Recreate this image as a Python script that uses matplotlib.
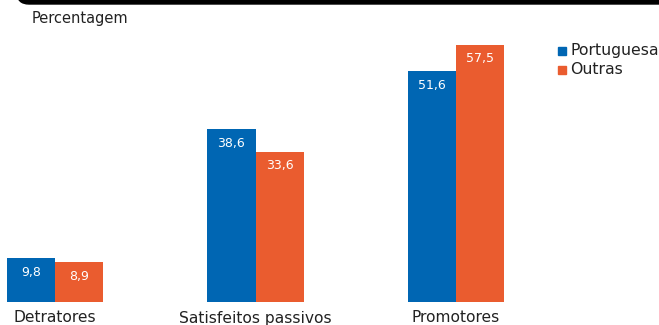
import matplotlib
matplotlib.use("Agg")
import matplotlib.pyplot as plt
from matplotlib.patches import FancyBboxPatch
import numpy as np

categories = ["Detratores", "Satisfeitos passivos", "Promotores"]
portuguesa = [9.8, 38.6, 51.6]
outras = [8.9, 33.6, 57.5]
series_names = ["Portuguesa", "Outras"]
colors = ["#0066B3", "#EA5C2F"]

W, H = 659, 325
plt.rcParams["font.family"] = ["DejaVu Sans"]
fig = plt.figure(figsize=(W / 100, H / 100), dpi=100)

# plot area in pixel geometry
x0_px, spacing_px = 55.0, 200.5
base_px, px_per_unit = 302.0, 4.47
ax = fig.add_axes([0, (H - base_px) / H, 1, base_px / H])
ax.set_xlim(-x0_px / spacing_px, (W - x0_px) / spacing_px)
ax.set_ylim(0, base_px / px_per_unit)
ax.axis("off")

x = np.arange(len(categories))
bw = 0.24
for vals, off, col in [(portuguesa, -bw / 2, colors[0]), (outras, bw / 2, colors[1])]:
    bars = ax.bar(x + off, vals, width=bw, color=col, linewidth=0)
    for b, v in zip(bars, vals):
        ax.text(b.get_x() + b.get_width() / 2, v - 3.1, f"{v:.1f}".replace(".", ","),
                ha="center", va="center", color="white", fontsize=9)

for xi, c in zip(x, categories):
    fig.text((x0_px + xi * spacing_px) / W, 1 - 318 / H, c, ha="center", va="center",
             fontsize=11.2, color="#222222")

fig.text(32 / W, 1 - 18 / H, "Percentagem", ha="left", va="center", fontsize=10.5, color="#222222")

# legend
for i, (name, col) in enumerate(zip(series_names, colors)):
    yc = 50.5 + i * 19
    fig.patches.append(plt.Rectangle((558 / W, 1 - (yc + 4) / H), 8 / W, 8 / H,
                                     transform=fig.transFigure, color=col))
    fig.text(570 / W, 1 - yc / H, name, ha="left", va="center", fontsize=11.3, color="#222222")

# header rule with rounded left end
fig.patches.append(FancyBboxPatch((17, H - 4), W + 40, 30,
                                  boxstyle="round,pad=0,rounding_size=12",
                                  transform=None, color="black"))

fig.savefig("out.png", dpi=100)
